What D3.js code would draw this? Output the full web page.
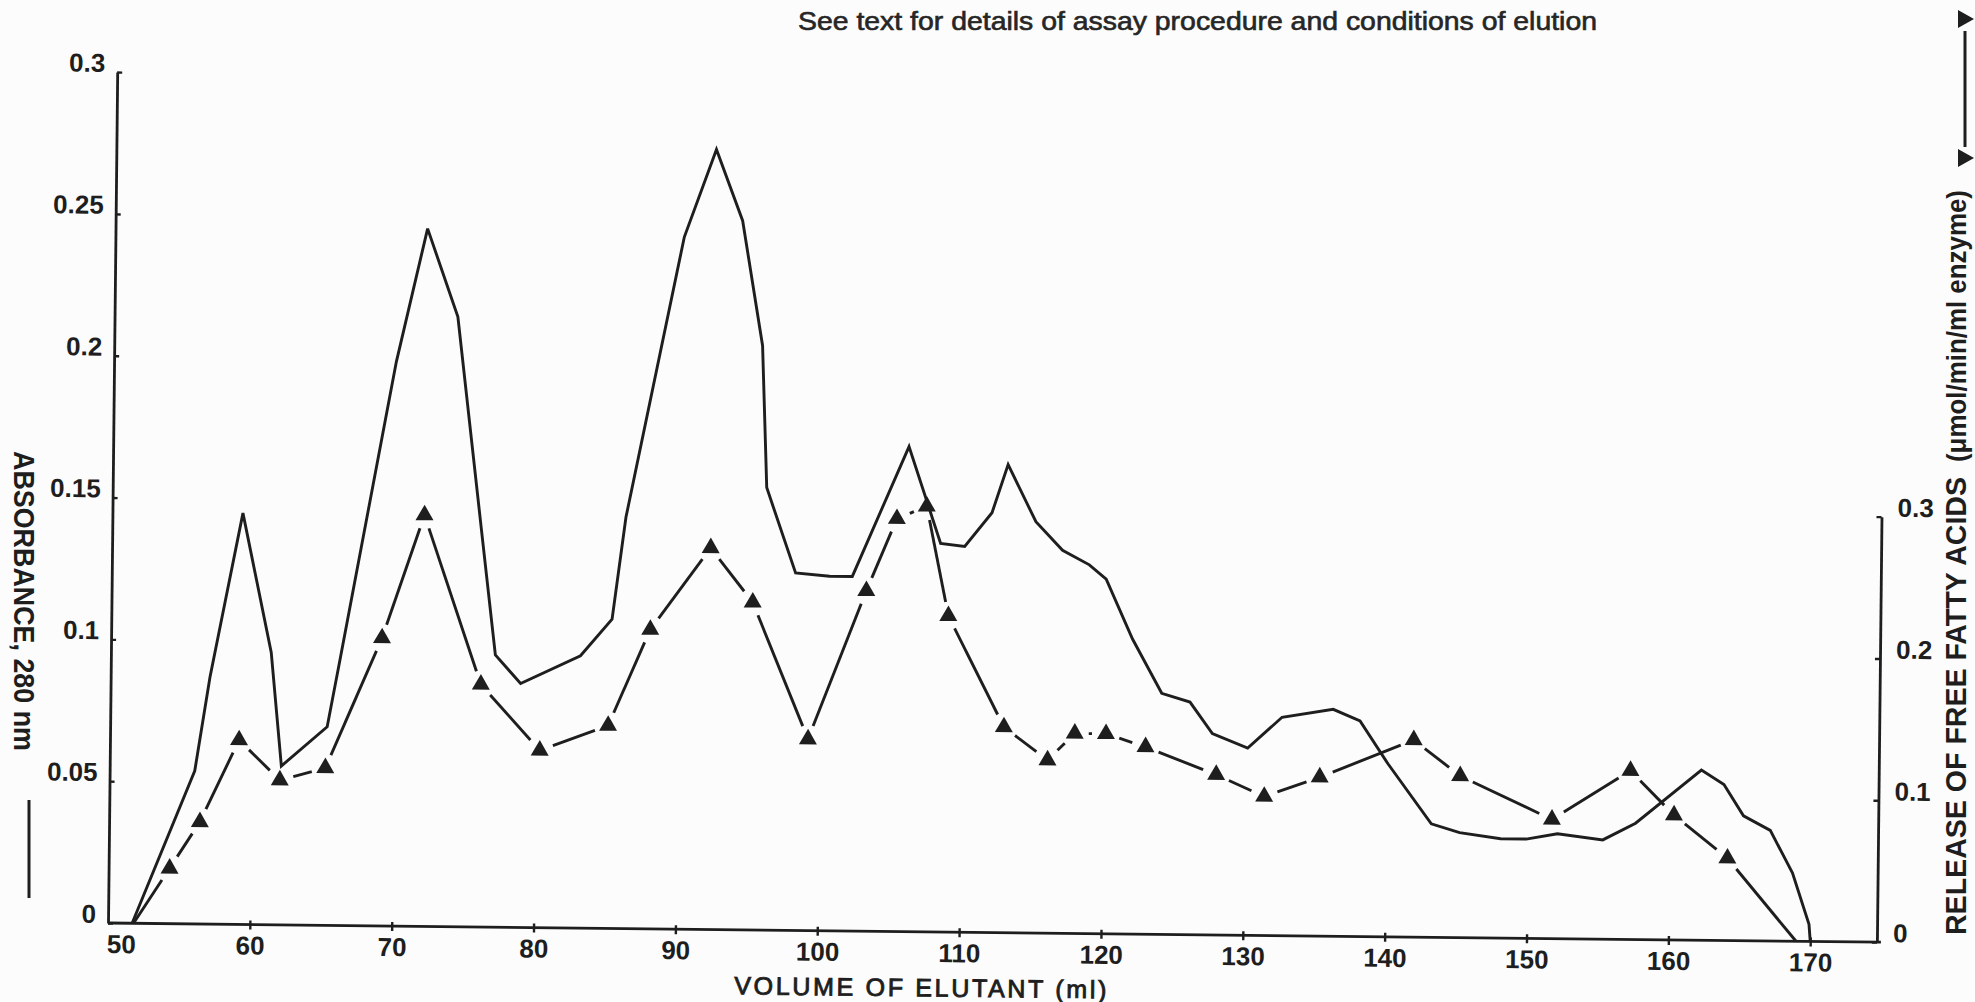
<!DOCTYPE html>
<html>
<head>
<meta charset="utf-8">
<script src="https://cdnjs.cloudflare.com/ajax/libs/d3/7.8.5/d3.min.js"></script>
<style>
  html, body { margin: 0; padding: 0; background: #fcfcfc; }
  svg { display: block; }
</style>
</head>
<body>
<svg id="chart" width="1975" height="1002"></svg>
<script>
// ---------------- DATA ----------------
// Absorbance at 280 nm (plain line)
const absVolume = [51.7, 56.0, 57.0, 59.2, 61.3, 62.1, 65.3, 66.2, 69.9, 72.0, 74.2, 76.0, 77.1, 78.9,
  83.1, 85.3, 86.2, 90.1, 92.3, 94.2, 95.7, 96.1, 98.2, 100.6, 102.2, 106.1, 108.4, 110.1, 112.0,
  113.1, 115.1, 117.0, 118.9, 120.1, 122.0, 124.1, 126.1, 127.7, 130.2, 132.6, 136.2, 138.1, 140.1,
  143.2, 145.2, 148.1, 149.9, 152.1, 155.3, 157.6, 162.2, 163.8, 165.2, 167.1, 168.7, 169.9, 170.0];
const absorbance = [0, 0.054, 0.087, 0.145, 0.096, 0.056, 0.070, 0.095, 0.199, 0.246, 0.215, 0.141, 0.096, 0.086,
  0.096, 0.109, 0.145, 0.244, 0.275, 0.250, 0.206, 0.156, 0.126, 0.125, 0.125, 0.171, 0.137, 0.136, 0.148,
  0.165, 0.145, 0.135, 0.130, 0.125, 0.104, 0.085, 0.082, 0.071, 0.066, 0.077, 0.080, 0.076, 0.061,
  0.040, 0.037, 0.035, 0.035, 0.037, 0.035, 0.041, 0.060, 0.055, 0.044, 0.039, 0.024, 0.006, 0];

// Release of free fatty acids (triangles), right axis
const ffaVolume = [51.8, 54.3, 56.4, 59.1, 62.0, 65.2, 69.1, 72.0, 76.1, 80.3, 85.1, 88.0, 92.2, 95.2,
  99.2, 103.2, 105.3, 107.4, 109.0, 113.0, 116.1, 118.0, 120.2, 123.0, 128.0, 131.4, 135.3, 141.9,
  145.2, 151.7, 157.2, 160.3, 164.1, 169.0];
const ffaRelease = [0, 0.039, 0.072, 0.130, 0.102, 0.111, 0.203, 0.290, 0.171, 0.125, 0.143, 0.211, 0.269, 0.231,
  0.135, 0.240, 0.291, 0.300, 0.223, 0.145, 0.122, 0.141, 0.141, 0.132, 0.113, 0.098, 0.112, 0.139,
  0.114, 0.084, 0.119, 0.088, 0.058, 0];

const xTicks = [50, 60, 70, 80, 90, 100, 110, 120, 130, 140, 150, 160, 170];
const xTickLabels = ["50", "60", "70", "80", "90", "100", "110", "120", "130", "140", "150", "160", "170"];
const leftTicks = [0, 0.05, 0.1, 0.15, 0.2, 0.25, 0.3];
const leftTickLabels = ["0", "0.05", "0.1", "0.15", "0.2", "0.25", "0.3"];
const rightTicks = [0, 0.1, 0.2, 0.3];
const rightTickLabels = ["0", "0.1", "0.2", "0.3"];

const titleText = "See text for details of assay procedure and conditions of elution";
const xTitle = "VOLUME OF ELUTANT (ml)";
const leftTitle = "ABSORBANCE, 280 nm";
const rightTitleMain = "RELEASE OF FREE FATTY ACIDS";
const rightTitleUnit = "(\u03bcmol/min/ml enzyme)";

// ---------------- DRAWING ----------------
const W = 1975, H = 1002;
const ink = "#1e1e1e";
const font = "'Liberation Sans', Arial, Helvetica, sans-serif";
const svg = d3.select("#chart");
svg.append("rect").attr("width", W).attr("height", H).attr("fill", "#fcfcfc");

const x = d3.scaleLinear().domain([50, 174.7]).range([108, 1877]);
const yL = d3.scaleLinear().domain([0, 0.3]).range([923, 72]);
const yR = d3.scaleLinear().domain([0, 0.3]).range([923, 497.5]);

// the scanned figure is very slightly rotated clockwise
const g = svg.append("g").attr("transform", `rotate(0.62, ${x(50)}, ${yL(0)})`);

function styleAxis(sel) {
  sel.attr("font-family", font).attr("font-size", 26).attr("font-weight", "bold");
  sel.select(".domain").attr("stroke", ink).attr("stroke-width", 2.8);
  sel.selectAll(".tick line").attr("stroke", ink).attr("stroke-width", 2.4);
  sel.selectAll(".tick text").attr("fill", ink);
}

// x axis
const xAxis = g.append("g").attr("transform", `translate(0, ${yL(0)})`)
  .call(d3.axisBottom(x).tickValues(xTicks).tickSizeOuter(0).tickSizeInner(5)
    .tickFormat((d, i) => xTickLabels[i]));
styleAxis(xAxis);
xAxis.selectAll(".tick line").attr("y1", d => d === 50 ? 0 : -4).attr("y2", d => d === 50 ? 0 : 5);
xAxis.selectAll(".tick text").attr("y", 30).attr("dy", 0).attr("dx", d => d === 50 ? 13 : 0);
xAxis.select(".domain").attr("d", `M${x(50)},0H${x(174.7) + 4}`);

// left axis
const lAxis = g.append("g").attr("transform", `translate(${x(50)}, 0)`)
  .call(d3.axisLeft(yL).tickValues(leftTicks).tickSizeOuter(0).tickSizeInner(-5).tickPadding(12)
    .tickFormat((d, i) => leftTickLabels[i]));
styleAxis(lAxis);
lAxis.selectAll(".tick text").attr("dy", "-0.02em");

// right axis
const rAxis = g.append("g").attr("transform", `translate(${x(174.7)}, 0)`)
  .call(d3.axisRight(yR).tickValues(rightTicks).tickSizeOuter(0).tickSizeInner(-5).tickPadding(16)
    .tickFormat((d, i) => rightTickLabels[i]));
styleAxis(rAxis);
rAxis.selectAll(".tick text").attr("dy", "-0.02em");

// x title
g.append("text")
  .attr("x", 921).attr("y", 987.5)
  .attr("text-anchor", "middle")
  .attr("font-family", font).attr("font-size", 25)
  .attr("fill", ink).attr("stroke", ink).attr("stroke-width", 0.9)
  .attr("textLength", 372).attr("lengthAdjust", "spacing")
  .text(xTitle);

// absorbance line
const absData = d3.zip(absVolume, absorbance);
g.append("path")
  .datum(absData)
  .attr("fill", "none").attr("stroke", ink).attr("stroke-width", 2.9)
  .attr("stroke-linejoin", "miter").attr("stroke-miterlimit", 3)
  .attr("d", d3.line().x(d => x(d[0])).y(d => yL(d[1])));

// FFA line: segments stop short of each triangle
const ffaData = d3.zip(ffaVolume, ffaRelease);
const pts = ffaData.map(d => [x(d[0]), yR(d[1])]);
const gap = 14;
const segs = [];
for (let i = 0; i < pts.length - 1; i++) {
  const p = pts[i], q = pts[i + 1];
  const dx = q[0] - p[0], dy = q[1] - p[1];
  const len = Math.hypot(dx, dy);
  const s = i === 0 ? 0 : gap;
  const e = i + 1 === pts.length - 1 ? 0 : gap;
  if (len <= s + e + 1) continue;
  const ux = dx / len, uy = dy / len;
  segs.push([[p[0] + ux * s, p[1] + uy * s], [q[0] - ux * e, q[1] - uy * e]]);
}
g.append("g").selectAll("path").data(segs).join("path")
  .attr("fill", "none").attr("stroke", ink).attr("stroke-width", 2.9).attr("stroke-linecap", "butt")
  .attr("d", d => `M${d[0][0]},${d[0][1]}L${d[1][0]},${d[1][1]}`);

// triangles
const tri = d3.symbol(d3.symbolTriangle, 140);
g.append("g").selectAll("path").data(ffaData.slice(1, -1)).join("path")
  .attr("transform", d => `translate(${x(d[0])}, ${yR(d[1])})`)
  .attr("d", tri)
  .attr("fill", ink);

// ---------------- outer texts / legends ----------------
svg.append("text")
  .attr("x", 798).attr("y", 30)
  .attr("font-family", font).attr("font-size", 25)
  .attr("fill", "#262626").attr("stroke", "#262626").attr("stroke-width", 0.6)
  .attr("textLength", 799).attr("lengthAdjust", "spacingAndGlyphs")
  .text(titleText);

// left title (reads top to bottom)
svg.append("text")
  .attr("transform", "translate(14, 601) rotate(90)")
  .attr("text-anchor", "middle")
  .attr("font-family", font).attr("font-size", 30).attr("font-weight", "bold")
  .attr("fill", ink)
  .attr("textLength", 300).attr("lengthAdjust", "spacingAndGlyphs")
  .text(leftTitle);

// left legend (plain line)
svg.append("line")
  .attr("x1", 29).attr("x2", 29).attr("y1", 800).attr("y2", 898)
  .attr("stroke", ink).attr("stroke-width", 3);

// right title (reads bottom to top)
svg.append("text")
  .attr("transform", "translate(1966, 935) rotate(-90)")
  .attr("text-anchor", "start")
  .attr("font-family", font).attr("font-size", 29).attr("font-weight", "bold")
  .attr("fill", ink)
  .attr("textLength", 458).attr("lengthAdjust", "spacingAndGlyphs")
  .text(rightTitleMain);
svg.append("text")
  .attr("transform", "translate(1966, 462) rotate(-90)")
  .attr("text-anchor", "start")
  .attr("font-family", font).attr("font-size", 28).attr("font-weight", "bold")
  .attr("fill", ink)
  .attr("textLength", 272).attr("lengthAdjust", "spacingAndGlyphs")
  .text(rightTitleUnit);

// right legend (triangle line)
svg.append("line")
  .attr("x1", 1965).attr("x2", 1965).attr("y1", 31).attr("y2", 147)
  .attr("stroke", ink).attr("stroke-width", 3);
svg.append("path").attr("d", "M1958,10L1974,19L1958,28Z").attr("fill", ink);
svg.append("path").attr("d", "M1958,149L1974,158L1958,167Z").attr("fill", ink);
</script>
</body>
</html>
